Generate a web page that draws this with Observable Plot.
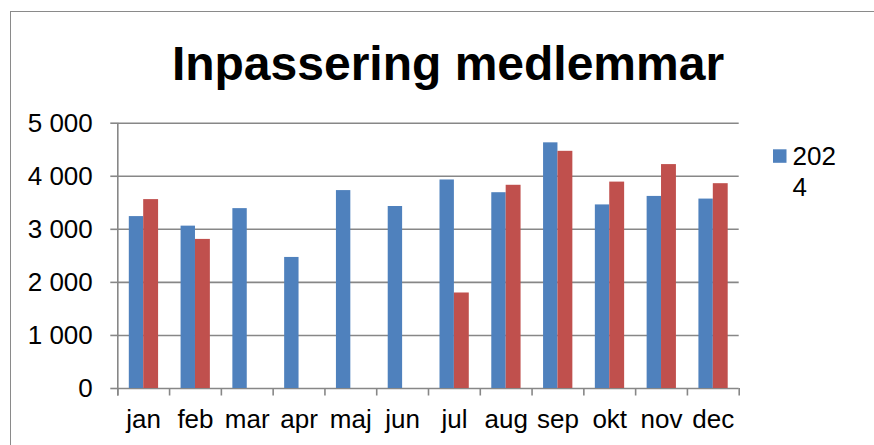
<!DOCTYPE html>
<html>
<head>
<meta charset="utf-8">
<script src="https://cdn.jsdelivr.net/npm/d3@7"></script>
<script src="https://cdn.jsdelivr.net/npm/@observablehq/plot@0.6"></script>
<style>
  html, body { margin: 0; padding: 0; background: #fff; }
  #wrap { position: relative; width: 874px; height: 445px; overflow: hidden; }
  #frame { position: absolute; left: 10px; top: 11px; width: 900px; height: 500px; border: 1.5px solid #8a8a8a; box-sizing: border-box; }
  #wrap svg { position: absolute; left: 0; top: 0; }
</style>
</head>
<body>
<div id="wrap"><div id="frame"></div></div>
<script>
const title = "Inpassering medlemmar";
const months = ["jan", "feb", "mar", "apr", "maj", "jun", "jul", "aug", "sep", "okt", "nov", "dec"];
const series2024Name = "2024";
const series2024 = [3240, 3060, 3390, 2470, 3730, 3430, 3930, 3690, 4630, 3460, 3620, 3570];
const seriesRedName = "2025";
const seriesRed = [3560, 2810, null, null, null, null, 1800, 3830, 4470, 3890, 4220, 3860];
const yTicks = [0, 1000, 2000, 3000, 4000, 5000];
const legendLines = ["202", "4"];

const blue = "#4F81BD";
const red = "#C0504D";
const gray = "#878787";
const font = "'Liberation Sans', Arial, Helvetica, sans-serif";

const W = 874, H = 445;
const mL = 117.3, mR = 135.3, mT = 122.7, mB = 57;
const step = (W - mL - mR) / months.length;

const blueData = months.map((m, i) => ({month: m, value: series2024[i]}));
const redData = months.map((m, i) => ({month: m, value: seriesRed[i]})).filter(d => d.value != null);

const locale = d3.formatLocale({decimal: ",", thousands: "\u00a0", grouping: [3], currency: ["", " kr"]});
const fmt = locale.format(",d");

const chart = Plot.plot({
  width: W,
  height: H,
  marginLeft: mL,
  marginRight: mR,
  marginTop: mT,
  marginBottom: mB,
  style: {fontFamily: font, background: "transparent", color: "black"},
  x: {type: "band", domain: months, padding: 0, round: false, axis: null, label: null},
  y: {domain: [0, 5000], axis: null, label: null},
  marks: [
    Plot.gridY(yTicks, {stroke: gray, strokeOpacity: 1, strokeWidth: 1.6}),
    Plot.axisY(yTicks, {label: null, tickSize: 7, tickPadding: 18, tickFormat: fmt, fontSize: 26, stroke: gray, strokeWidth: 1.6, fill: "black"}),
    Plot.barY(blueData, {x: "month", y: "value", fill: blue, insetLeft: 11.5, insetRight: step / 2}),
    Plot.barY(redData, {x: "month", y: "value", fill: red, insetLeft: step / 2, insetRight: 11}),
    Plot.ruleX(months, {x: d => d, y1: 0, y2: 0, dx: -step / 2, insetBottom: -7.5, stroke: gray, strokeWidth: 1.6}),
    Plot.ruleX(months.slice(-1), {x: d => d, y1: 0, y2: 0, dx: step / 2, insetBottom: -7.5, stroke: gray, strokeWidth: 1.6}),
    Plot.ruleX(months.slice(0, 1), {x: d => d, y1: 5000, y2: 0, dx: -step / 2, insetBottom: -7.5, stroke: gray, strokeWidth: 1.6}),
    Plot.axisX({label: null, tickSize: 0, tickPadding: 21.5, fontSize: 26, fill: "black"})
  ]
});

const svg = d3.select(chart);
svg.append("text")
  .attr("x", 448).attr("y", 80)
  .attr("text-anchor", "middle")
  .attr("font-family", font)
  .attr("font-weight", "bold")
  .attr("font-size", 48)
  .attr("fill", "black")
  .text(title);

const lg = svg.append("g").attr("font-family", font).attr("font-size", 26).attr("fill", "black").attr("text-anchor", "start");
lg.append("rect").attr("x", 773).attr("y", 149.3).attr("width", 13.5).attr("height", 13.5).attr("fill", blue);
const lt = lg.append("text").attr("x", 792.5).attr("y", 165).attr("text-anchor", "start");
lt.selectAll("tspan").data(legendLines).join("tspan")
  .attr("x", 792.5).attr("dy", (d, i) => i === 0 ? 0 : 31).text(d => d);
lt.append("title").text(series2024Name);

document.getElementById("wrap").appendChild(chart);
</script>
</body>
</html>
